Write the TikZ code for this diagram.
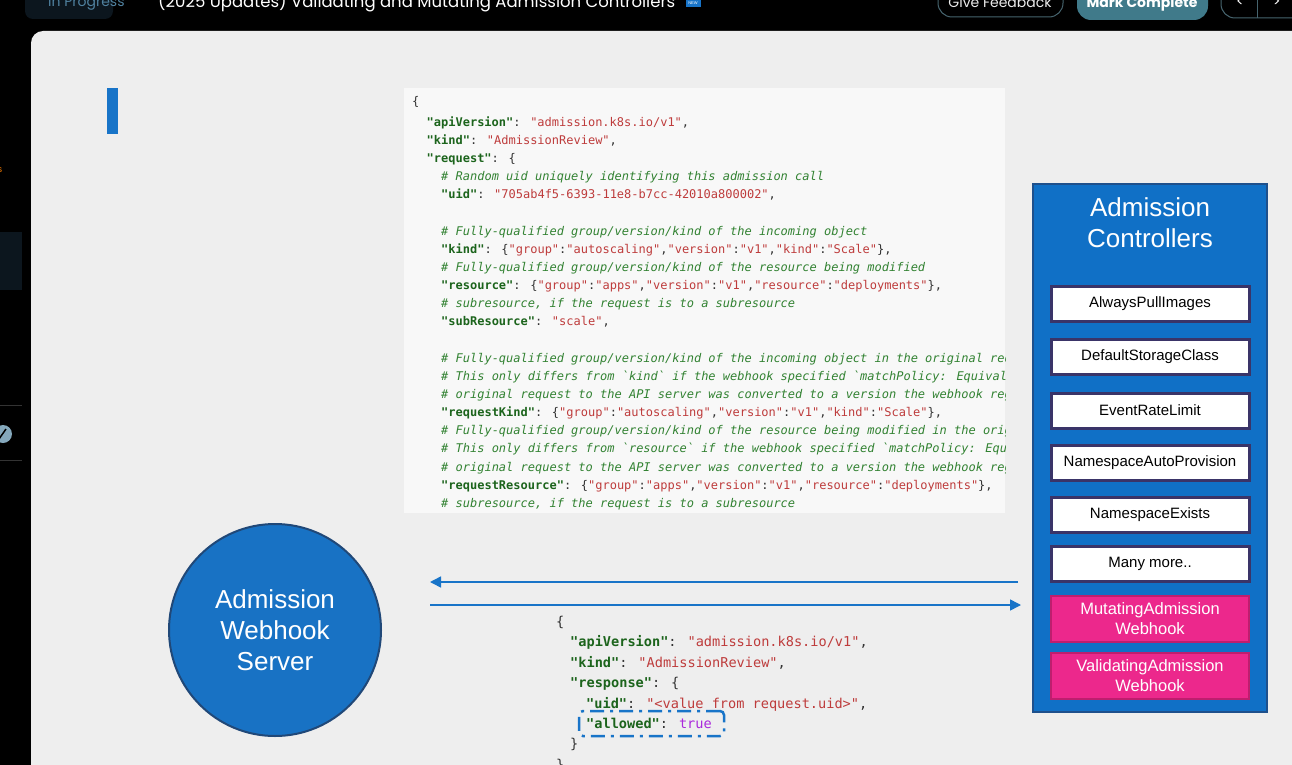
\documentclass[tikz,border=0pt]{standalone}
\usepackage{fontspec}
\setmainfont{Liberation Sans}
\newfontfamily\codefont{DejaVu Sans Mono}
\newfontfamily\uifont{Poppins}
\usetikzlibrary{arrows.meta}

\definecolor{slidebg}{RGB}{238,238,238}
\definecolor{codebg}{RGB}{248,248,248}
\definecolor{accent}{RGB}{24,116,200}
\definecolor{hubfill}{RGB}{24,114,196}
\definecolor{hubline}{RGB}{32,72,120}
\definecolor{panelfill}{RGB}{16,112,198}
\definecolor{panelline}{RGB}{30,80,140}
\definecolor{pluginline}{RGB}{58,52,104}
\definecolor{hookfill}{RGB}{236,40,140}
\definecolor{hookline}{RGB}{190,30,110}
\definecolor{codekey}{RGB}{28,100,28}
\definecolor{codestr}{RGB}{190,60,60}
\definecolor{codecmt}{RGB}{50,130,50}
\definecolor{codepun}{RGB}{50,50,50}
\definecolor{codebool}{RGB}{170,40,220}
\definecolor{barbg}{RGB}{12,22,30}
\definecolor{btnline}{RGB}{70,100,110}
\definecolor{btnfill}{RGB}{64,122,138}
\definecolor{dimblue}{RGB}{80,130,160}

\newcommand{\jkey}[1]{{\bfseries\color{codekey}"#1"}}
\newcommand{\jstr}[1]{{\color{codestr}"#1"}}
\newcommand{\jcmt}[1]{{\itshape\color{codecmt}\# #1}}

\tikzset{
  codeline/.style={anchor=base west, inner sep=0pt, text=codepun,
    font=\codefont\fontsize{12}{14}\selectfont},
  respline/.style={anchor=base west, inner sep=0pt, text=codepun,
    font=\codefont\fontsize{13.6}{16}\selectfont},
  plugin/.style={draw=pluginline, line width=3pt, fill=white,
    minimum width=198, minimum height=35, inner sep=0pt,
    font=\fontsize{15}{18}\selectfont},
  hook/.style={draw=hookline, line width=2pt, fill=hookfill, text=white,
    minimum width=198, minimum height=46, inner sep=0pt, align=center,
    font=\fontsize{16.5}{20}\selectfont},
  flow/.style={draw=accent, line width=1.5pt,
    -{Triangle[length=11pt,width=11pt]}},
  allowbox/.style={draw=accent, line width=2.5pt, rounded corners=4pt,
    dash pattern=on 14pt off 6pt on 3pt off 6pt},
  uibtn/.style={draw=btnline, line width=1pt, rounded corners=14pt},
}

\begin{document}
\begin{tikzpicture}[x=1pt,y=-1pt]
\clip (0,0) rectangle (1292,765);
\fill[black] (0,0) rectangle (1292,765);

\fill[barbg] (0,232) rectangle (22,290);
\draw[gray!40!black] (0,405) -- (22,405);
\draw[gray!40!black] (0,460) -- (22,460);
\fill[dimblue!70!white] (3,434) circle (9);
\draw[black, line width=1.5pt] (-1,439) -- (6,429);
\node[text=orange, font=\fontsize{9}{10}\selectfont, inner sep=0pt] (sidemark) at (0,170) {s};

\fill[barbg, rounded corners=8pt] (25,-20) rectangle (113,19);
\node[anchor=base west, inner sep=0pt, text=dimblue, font=\uifont\fontsize{14}{16}\selectfont] (state) at (48,7) {In Progress};
\node[anchor=base west, inner sep=0pt, text=white, font=\uifont\fontsize{16.5}{20}\selectfont] (title) at (158,8) {(2025 Updates) Validating and Mutating Admission Controllers};
\node[fill=accent, text=white, inner sep=1pt, minimum width=15, minimum height=9, font=\fontsize{4}{5}\selectfont] (newtag) at (693,3) {NEW};
\draw[uibtn] (938,-20) rectangle (1063,17);
\node[anchor=base, inner sep=0pt, text=white!85!gray, font=\uifont\fontsize{14}{16}\selectfont] (feedback) at (1000,8) {Give Feedback};
\fill[btnfill, rounded corners=14pt] (1077,-20) rectangle (1208,20);
\node[anchor=base, inner sep=0pt, text=white, font=\uifont\bfseries\fontsize{14}{16}\selectfont] (complete) at (1142,8) {Mark Complete};
\draw[uibtn] (1221,-20) rectangle (1310,18);
\draw[btnline] (1257,-20) -- (1257,18);
\node[text=white, font=\uifont\fontsize{14}{16}\selectfont] (prev) at (1240,2) {<};
\node[text=white, font=\uifont\fontsize{14}{16}\selectfont] (next) at (1277,2) {>};

\fill[slidebg, rounded corners=12pt] (31,31) rectangle (1320,800);
\fill[accent] (107,88) rectangle (118,134);

\fill[codebg] (404,88) rectangle (1005,513);
\begin{scope}
\clip (404,88) rectangle (1005,513);
\node[codeline] (r1) at (412,106) {\{};
\node[codeline] (r2) at (426.5,126) {\jkey{apiVersion}: \jstr{admission.k8s.io/v1},};
\node[codeline] (r3) at (426.5,144) {\jkey{kind}: \jstr{AdmissionReview},};
\node[codeline] (r4) at (426.5,162) {\jkey{request}: \{};
\node[codeline] (r5) at (441,180) {\jcmt{Random uid uniquely identifying this admission call}};
\node[codeline] (r6) at (441,198) {\jkey{uid}: \jstr{705ab4f5-6393-11e8-b7cc-42010a800002},};
\node[codeline] (r7) at (441,235) {\jcmt{Fully-qualified group/version/kind of the incoming object}};
\node[codeline] (r8) at (441,253) {\jkey{kind}: \{\jstr{group}:\jstr{autoscaling},\jstr{version}:\jstr{v1},\jstr{kind}:\jstr{Scale}\},};
\node[codeline] (r9) at (441,271) {\jcmt{Fully-qualified group/version/kind of the resource being modified}};
\node[codeline] (r10) at (441,289) {\jkey{resource}: \{\jstr{group}:\jstr{apps},\jstr{version}:\jstr{v1},\jstr{resource}:\jstr{deployments}\},};
\node[codeline] (r11) at (441,307) {\jcmt{subresource, if the request is to a subresource}};
\node[codeline] (r12) at (441,325) {\jkey{subResource}: \jstr{scale},};
\node[codeline] (r13) at (441,362) {\jcmt{Fully-qualified group/version/kind of the incoming object in the original request}};
\node[codeline] (r14) at (441,380) {\jcmt{This only differs from `kind` if the webhook specified `matchPolicy: Equivalent`}};
\node[codeline] (r15) at (441,398) {\jcmt{original request to the API server was converted to a version the webhook registered}};
\node[codeline] (r16) at (441,416) {\jkey{requestKind}: \{\jstr{group}:\jstr{autoscaling},\jstr{version}:\jstr{v1},\jstr{kind}:\jstr{Scale}\},};
\node[codeline] (r17) at (441,434) {\jcmt{Fully-qualified group/version/kind of the resource being modified in the original}};
\node[codeline] (r18) at (441,452) {\jcmt{This only differs from `resource` if the webhook specified `matchPolicy: Equivalent`}};
\node[codeline] (r19) at (441,471) {\jcmt{original request to the API server was converted to a version the webhook registered}};
\node[codeline] (r20) at (441,489) {\jkey{requestResource}: \{\jstr{group}:\jstr{apps},\jstr{version}:\jstr{v1},\jstr{resource}:\jstr{deployments}\},};
\node[codeline] (r21) at (441,507) {\jcmt{subresource, if the request is to a subresource}};
\end{scope}

\node[circle, draw=hubline, line width=2pt, fill=hubfill, minimum size=212, text=white, align=center, font=\fontsize{26}{31}\selectfont] (server) at (275,630) {Admission\\Webhook\\Server};

\node[draw=panelline, line width=2pt, fill=panelfill, minimum width=234, minimum height=528, inner sep=0pt] (chain) at (1150,448) {};
\node[text=white, align=center, font=\fontsize{26}{31}\selectfont] (chaintitle) at (1150,223) {Admission\\Controllers};
\node[plugin] (pull) at (1150,303.5) {AlwaysPullImages};
\node[plugin] (storage) at (1150,356.5) {DefaultStorageClass};
\node[plugin] (rate) at (1150,410.5) {EventRateLimit};
\node[plugin] (autons) at (1150,462.5) {NamespaceAutoProvision};
\node[plugin] (nsexists) at (1150,514.5) {NamespaceExists};
\node[plugin] (more) at (1150,564) {Many more..};
\node[hook] (mutate) at (1150,619) {MutatingAdmission\\Webhook};
\node[hook] (validate) at (1150,676) {ValidatingAdmission\\Webhook};

\coordinate (askR) at (1018,582);
\coordinate (askL) at (430,582);
\coordinate (ansL) at (430,605);
\coordinate (ansR) at (1021,605);
\draw[flow] (askR) -- (askL);
\draw[flow] (ansL) -- (ansR);

\node[respline] (a1) at (556,626) {\{};
\node[respline] (a2) at (570,646) {\jkey{apiVersion}: \jstr{admission.k8s.io/v1},};
\node[respline] (a3) at (570,667) {\jkey{kind}: \jstr{AdmissionReview},};
\node[respline] (a4) at (570,687) {\jkey{response}: \{};
\node[respline] (a5) at (586,708) {\jkey{uid}: \jstr{<value from request.uid>},};
\node[respline] (a6) at (586,728) {\jkey{allowed}: {\color{codebool}true}};
\node[respline] (a7) at (570,748) {\}};
\node[respline] (a8) at (556,769) {\}};
\node[allowbox, minimum width=145, minimum height=25, inner sep=0pt] (allowmark) at (651.5,723.5) {};
\end{tikzpicture}
\end{document}
